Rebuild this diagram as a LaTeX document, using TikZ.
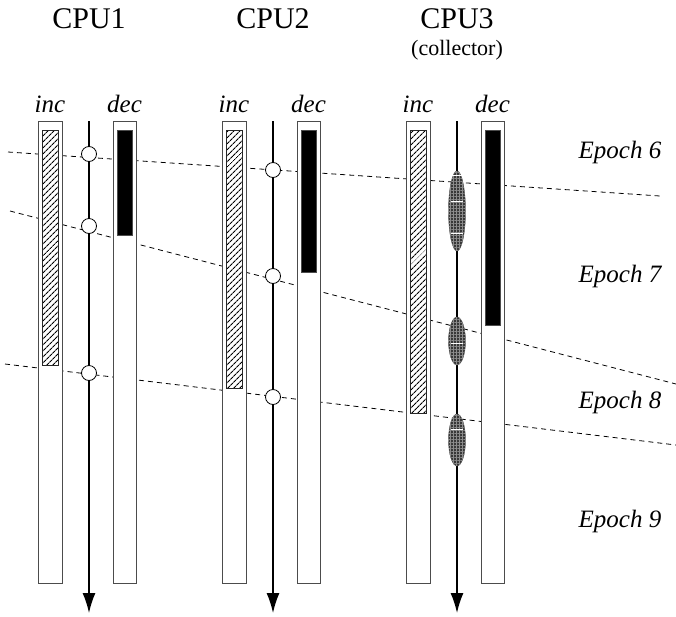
\documentclass[tikz,border=0pt]{standalone}
\usepackage{fontspec}
\setmainfont{Liberation Serif}
\usetikzlibrary{arrows.meta,patterns,patterns.meta,shapes.geometric}

\begin{document}
\begin{tikzpicture}[x=1pt,y=-1pt,
  outerbar/.style={draw=black!70,fill=white,line width=0.8pt},
  incbar/.style={draw=black!85,pattern={Lines[angle=45,distance=4pt,line width=1.1pt]},line width=0.8pt},
  decbar/.style={draw=black!70,fill=black,line width=0.8pt},
  epochline/.style={line width=0.8pt,dash pattern=on 5pt off 4pt},
  timeaxis/.style={line width=1.5pt,-{Latex[length=20pt,width=13pt]}},
  msg/.style={circle,draw,fill=white,inner sep=0pt,minimum size=15pt,line width=0.8pt},
  collect/.style={ellipse,draw=black!65,fill=black!78,inner sep=0pt,minimum width=17pt,
    postaction={pattern={Hatch[angle=0,distance=3pt,line width=0.5pt]},pattern color=black!45}},
  cpulbl/.style={anchor=base,font=\fontsize{30}{30}\selectfont},
  barlbl/.style={anchor=base,font=\fontsize{25}{25}\selectfont\itshape},
  epochlbl/.style={anchor=base,font=\fontsize{25}{25}\selectfont\itshape}]
\useasboundingbox (0,0) rectangle (676,616);

% epoch boundaries (behind the bars)
\coordinate (b6l) at (8,152);   \coordinate (b6r) at (660,196);
\coordinate (b7l) at (10,211);  \coordinate (b7r) at (676,384);
\coordinate (b8l) at (5,364);   \coordinate (b8r) at (676,445);
\draw[epochline] (b6l) -- (b6r);
\draw[epochline] (b7l) -- (b7r);
\draw[epochline] (b8l) -- (b8r);

% one processor per column
\foreach \n/\x/\ib/\db in {1/89/365/235,2/273/388/272,3/457/413/325}{
  \node[cpulbl] (cpu\n) at (\x,28) {CPU\n};
  \node[barlbl] (inc\n) at (\x-39,112) {inc};
  \node[barlbl] (dec\n) at (\x+35.5,112) {dec};
  \draw[outerbar] (\x-51,121) rectangle (\x-27,583);
  \draw[outerbar] (\x+24,121) rectangle (\x+47,583);
  \draw[incbar] (\x-47,130) rectangle (\x-31,\ib);
  \draw[decbar] (\x+28,130) rectangle (\x+43,\db);
  \coordinate (top\n) at (\x,121);
  \coordinate (end\n) at (\x,613);
  \draw[timeaxis] (top\n) -- (end\n);
}
\node[anchor=base,font=\fontsize{22}{22}\selectfont] (coll) at (457,55) {(collector)};

% messages
\node[msg] (m11) at (89,154) {};
\node[msg] (m12) at (89,226) {};
\node[msg] (m13) at (89,373) {};
\node[msg] (m21) at (273,170) {};
\node[msg] (m22) at (273,276) {};
\node[msg] (m23) at (273,397) {};

% collection phases
\node[collect,minimum height=80pt] (col1) at (457,211) {};
\node[collect,minimum height=48pt] (col2) at (457,341) {};
\node[collect,minimum height=52pt] (col3) at (457,440) {};
\foreach \y in {175,201,233,343,429}
  \draw[white,line width=0.8pt] (451,\y) -- (463,\y);

% epochs
\node[epochlbl] (ep6) at (620,158) {Epoch 6};
\node[epochlbl] (ep7) at (620,282) {Epoch 7};
\node[epochlbl] (ep8) at (620,408) {Epoch 8};
\node[epochlbl] (ep9) at (620,527) {Epoch 9};
\end{tikzpicture}
\end{document}
